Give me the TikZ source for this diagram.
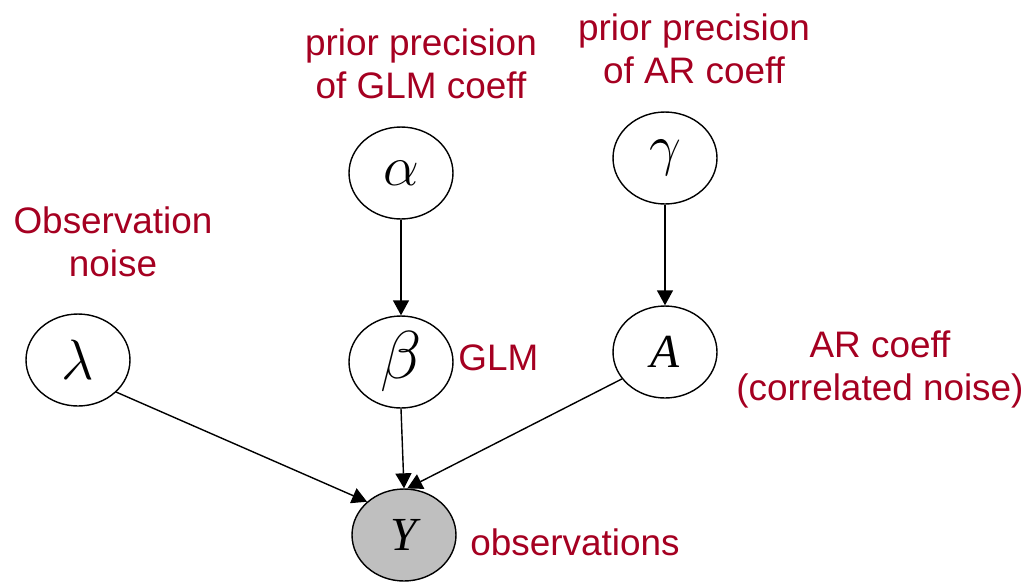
\documentclass[tikz,border=0pt]{standalone}
\usepackage{fontspec}
\setmainfont{Liberation Sans}
\newfontfamily\varfont{Liberation Serif}
\usetikzlibrary{shapes.geometric,arrows.meta}

\definecolor{labelred}{RGB}{165,0,33}

% lettre grecque agrandie (les fontes math sont limitees a 24.88pt)
\newcommand{\grk}[2][1.3]{\scalebox{#1}{$#2$}}

\tikzset{
  var/.style={ellipse, draw, thick, minimum width=2.08cm, minimum height=1.84cm,
    inner sep=0pt, font=\varfont\itshape\fontsize{27}{30}\selectfont},
  greek/.style={var, font=\fontsize{24.88}{28}\selectfont},
  observed/.style={var, fill=black!25},
  lbl/.style={text=labelred, align=center, inner sep=0pt,
    font=\fontsize{21}{24.5}\selectfont},
  dep/.style={-{Triangle[length=0.3cm,width=0.32cm]}, thick}
}

\begin{document}
\begin{tikzpicture}[x=0.02cm, y=-0.02cm]
    \useasboundingbox (0,0) rectangle (1031,582);

    % Variables du modele
    \node[greek] (lambda) at (78,360) {\grk{\lambda}};
    \node[greek] (alpha) at (401,173) {\grk{\alpha}};
    \node[greek] (beta) at (401,362) {\grk[1.55]{\beta}};
    \node[greek] (gamma) at (665,158) {\grk{\gamma}};
    \node[var] (A) at (665,352) {A};
    \node[observed] (Y) at (404,535) {Y};

    % Etiquettes
    \node[lbl] (lblprecglm) at (421,64) {prior precision\\of GLM coeff};
    \node[lbl] (lblprecar) at (694,49) {prior precision\\of AR coeff};
    \node[lbl] (lblnoise) at (113,242) {Observation\\noise};
    \node[lbl, anchor=west] (lblglm) at (458,358) {GLM};
    \node[lbl] (lblar) at (880,369) {AR coeff\\(correlated noise)};
    \node[lbl, anchor=west] (lblobs) at (470,542) {observations};

    % Dependances
    \draw[dep] (alpha) -- (beta);
    \draw[dep] (gamma) -- (A);
    \draw[dep] (lambda.-40) -- (Y.138);
    \draw[dep] (beta.south) -- (Y.north);
    \draw[dep] (A.-148) -- (Y.86);
\end{tikzpicture}
\end{document}
